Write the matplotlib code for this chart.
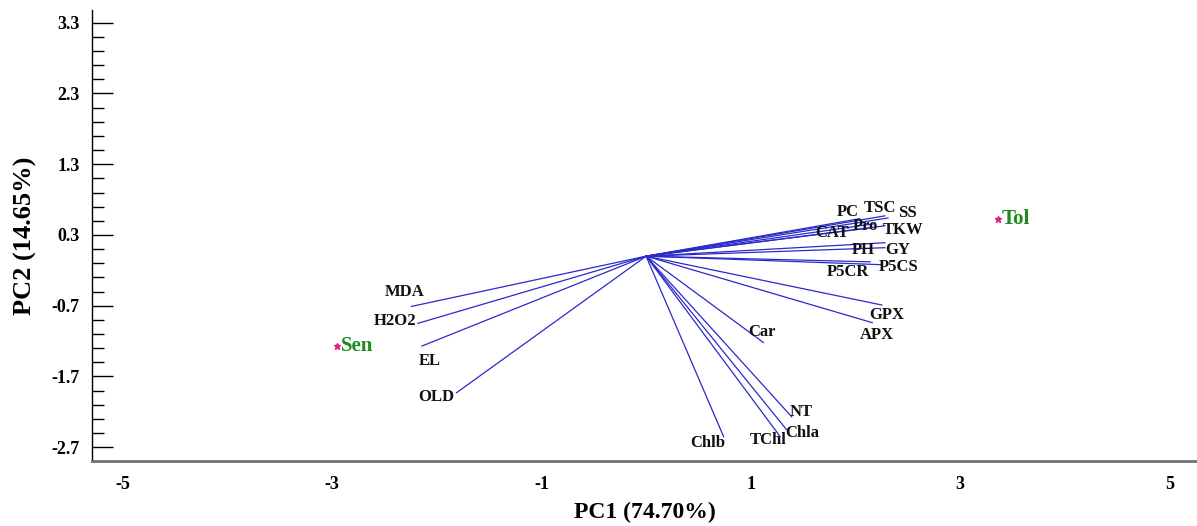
import numpy as np
import matplotlib.pyplot as plt
from matplotlib.ticker import FixedLocator

# variable loadings (PC1, PC2)
variables = ["MDA", "H2O2", "EL", "OLD", "Car", "GPX", "APX", "NT", "Chla", "TChl", "Chlb",
             "PC", "TSC", "SS", "Pro", "CAT", "TKW", "PH", "GY", "P5CR", "P5CS"]
pc1 = [-2.24, -2.18, -2.14, -1.81, 1.12, 2.25, 2.16, 1.39, 1.34, 1.28, 0.74,
       2.04, 2.28, 2.31, 2.19, 2.14, 2.28, 2.28, 2.28, 2.14, 2.24]
pc2 = [-0.71, -0.95, -1.27, -1.93, -1.22, -0.69, -0.94, -2.27, -2.45, -2.55, -2.55,
       0.53, 0.57, 0.54, 0.46, 0.40, 0.43, 0.19, 0.12, -0.08, -0.12]

# genotype scores
genotypes = ["Sen", "Tol"]
g_pc1 = [-2.95, 3.36]
g_pc2 = [-1.27, 0.53]

x_ticks = [-5, -3, -1, 1, 3, 5]
y_ticks = [-2.7, -1.7, -0.7, 0.3, 1.3, 2.3, 3.3]

# label offsets in pixels (style only)
offsets = [(-7, 14), (-23, 2), (8, -15), (-20, -4), (-1, 10), (5, -10), (5, -12),
           (10, 5), (16, -3), (-12, -3), (-16, -6),
           (-12, 7), (-5, 8), (19, 5), (-10, -2), (-38, -5), (18, -4), (-22, -7),
           (13, -2), (-22, -10), (18, -2)]

fig = plt.figure(figsize=(11.97, 5.26), dpi=100)
ax = fig.add_axes([0.0769, 0.1236, 0.9231, 0.8574])

serif = "Liberation Serif"

for name, x, y, off in zip(variables, pc1, pc2, offsets):
    ax.plot([0, x], [0, y], color="#2a2ac8", lw=0.9)
    ax.annotate(name, (x, y), xytext=off, textcoords="offset pixels",
                ha="center", va="center", fontsize=12, fontweight="bold",
                family=serif, color="#111111")

for name, x, y in zip(genotypes, g_pc1, g_pc2):
    ax.plot(x, y, marker="*", color="#e0207a", ms=5, ls="none")
    ax.annotate(name, (x, y), xytext=(4, 0), textcoords="offset pixels",
                ha="left", va="center", fontsize=15, fontweight="bold",
                family=serif, color="#1f8a1f")

ax.set_xlim(-5.29, 5.26)
ax.set_ylim(-2.895, 3.48)

ax.spines["top"].set_visible(False)
ax.spines["right"].set_visible(False)
ax.spines["left"].set_color("black")
ax.spines["left"].set_linewidth(1.0)
ax.spines["bottom"].set_color("#707070")
ax.spines["bottom"].set_linewidth(2.0)

ax.set_xticks(x_ticks)
ax.set_xticklabels([str(t) for t in x_ticks])
ax.set_yticks(y_ticks)
ax.set_yticklabels([f"{t:.1f}" for t in y_ticks])
ax.yaxis.set_minor_locator(FixedLocator(np.arange(-2.7, 3.31, 0.2)))

ax.tick_params(axis="x", length=0, pad=11)
ax.tick_params(axis="y", which="major", direction="in", length=15, width=1, pad=9)
ax.tick_params(axis="y", which="minor", direction="in", length=8.5, width=1)
for lab in ax.get_xticklabels() + ax.get_yticklabels():
    lab.set_family(serif)
    lab.set_fontweight("bold")
    lab.set_fontsize(13)

ax.set_xlabel("PC1 (74.70%)", family=serif, fontweight="bold", fontsize=17, labelpad=6)
ax.set_ylabel("PC2 (14.65%)", family=serif, fontweight="bold", fontsize=19, labelpad=10)

fig.savefig("out.png", dpi=100)
